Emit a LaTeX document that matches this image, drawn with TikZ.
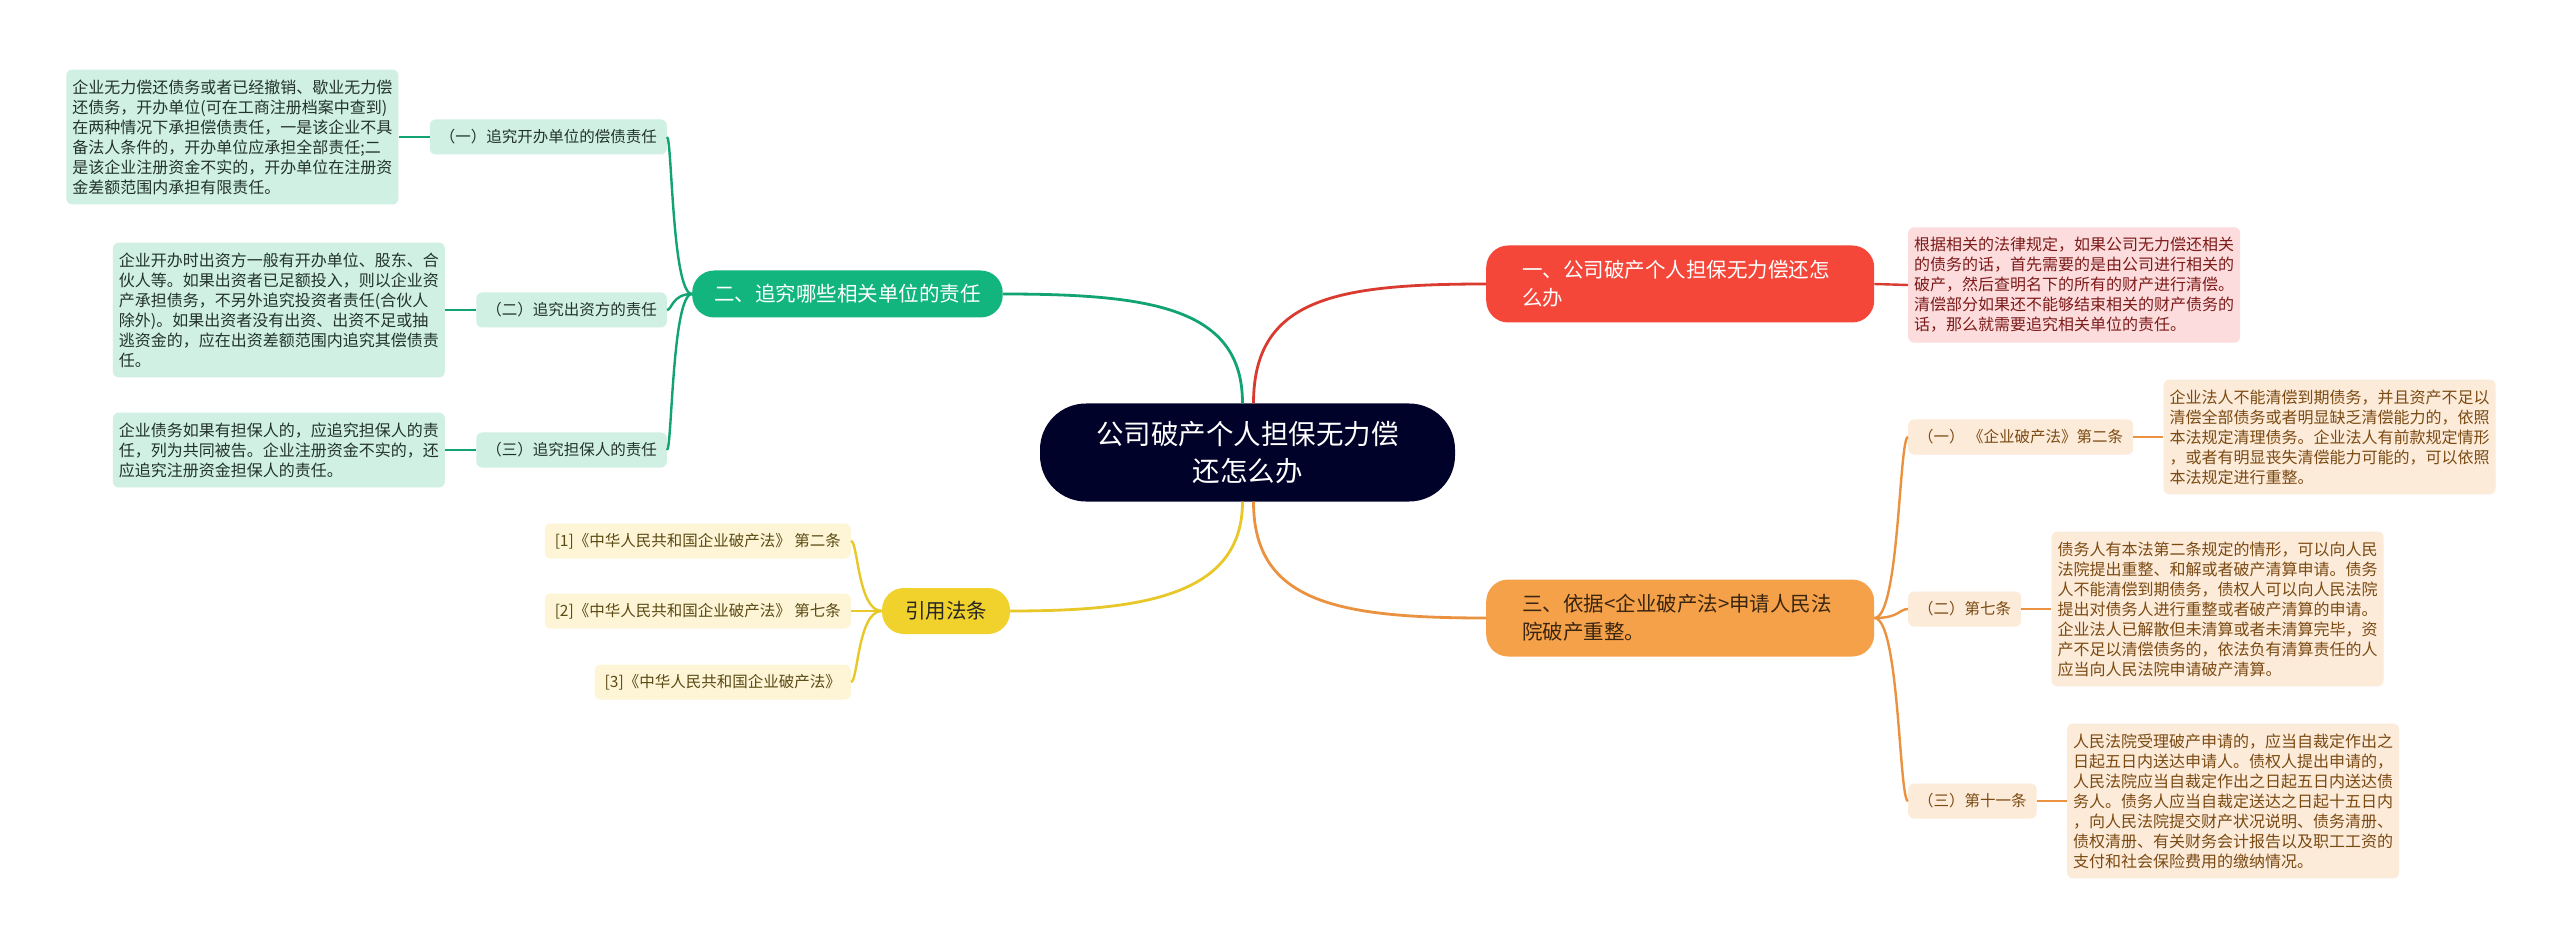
\documentclass[tikz,border=0pt]{standalone}
\usepackage{fontspec}
\setmainfont{Noto Sans CJK SC}
\definecolor{navy}{HTML}{000229}
\definecolor{redmain}{HTML}{F4473A}
\definecolor{redline}{HTML}{D93B30}
\definecolor{redlight}{HTML}{FCDCDC}
\definecolor{redtext}{HTML}{7D1A1A}
\definecolor{greenmain}{HTML}{12B57D}
\definecolor{greenline}{HTML}{12A373}
\definecolor{greenlight}{HTML}{CFF0E3}
\definecolor{greentext}{HTML}{23332C}
\definecolor{orangemain}{HTML}{F5A14A}
\definecolor{orangeline}{HTML}{EA9240}
\definecolor{orangelight}{HTML}{FDEBDA}
\definecolor{orangetext}{HTML}{7A4A12}
\definecolor{orangebrtext}{HTML}{3A2610}
\definecolor{yellowmain}{HTML}{F1D12B}
\definecolor{yellowline}{HTML}{E8C828}
\definecolor{yellowlight}{HTML}{FDF5D6}
\definecolor{yellowtext}{HTML}{5A4A14}
\begin{document}
\begin{tikzpicture}[x=1pt,y=-1pt,
  central/.style={fill=navy,text=white,rounded corners=46pt,minimum width=415pt,minimum height=98pt,align=center,inner sep=0pt,font=\fontsize{27.5}{37}\selectfont},
  branchbox/.style={rounded corners=22pt,inner ysep=0pt,font=\fontsize{20.5}{28}\selectfont},
  wideb/.style={branchbox,text width=316pt,inner xsep=36pt,align=left,minimum height=77pt},
  labelbox/.style={rounded corners=6pt,inner xsep=10pt,inner ysep=0pt,minimum height=35pt,font=\fontsize{15.5}{20}\selectfont},
  detailbox/.style={rounded corners=6pt,inner xsep=6pt,inner ysep=10pt,align=left,font=\fontsize{16}{20}\selectfont},
  mainline/.style={line width=2.8pt},
  subline/.style={line width=2.4pt}]
\fill[white] (0,0) rectangle (2560,949);
\useasboundingbox (0,0) rectangle (2560,949);

% central
\node[central] (c) at (1247.5,452.5) {公司破产个人担保无力偿\\还怎么办};

% branches
\node[wideb,fill=redmain,text=white,anchor=west] (r) at (1486,284) {一、公司破产个人担保无力偿还怎\\么办};
\node[wideb,fill=orangemain,text=orangebrtext,anchor=west] (o) at (1486,618) {三、依据<企业破产法>申请人民法\\院破产重整。};
\node[branchbox,fill=greenmain,text=white,anchor=west,inner xsep=22pt,minimum height=47pt] (g) at (692,294) {二、追究哪些相关单位的责任};
\node[branchbox,fill=yellowmain,text=black!85,minimum width=128pt,minimum height=46pt,inner xsep=10pt] (y) at (946,611) {引用法条};

% red detail
\node[detailbox,fill=redlight,text=redtext,anchor=west] (rd) at (1908,285) {根据相关的法律规定，如果公司无力偿还相关\\的债务的话，首先需要的是由公司进行相关的\\破产，然后查明名下的所有的财产进行清偿。\\清偿部分如果还不能够结束相关的财产债务的\\话，那么就需要追究相关单位的责任。};

% orange labels
\node[labelbox,fill=orangelight,text=orangetext,anchor=west] (o1) at (1908,437) {（一） 《企业破产法》第二条};
\node[labelbox,fill=orangelight,text=orangetext,anchor=west] (o2) at (1908,609) {（二）第七条};
\node[labelbox,fill=orangelight,text=orangetext,anchor=west] (o3) at (1908,801) {（三）第十一条};

\node[detailbox,fill=orangelight,text=orangetext,anchor=west] (o1d) at ([xshift=30pt]o1.east) {企业法人不能清偿到期债务，并且资产不足以\\清偿全部债务或者明显缺乏清偿能力的，依照\\本法规定清理债务。企业法人有前款规定情形\\，或者有明显丧失清偿能力可能的，可以依照\\本法规定进行重整。};
\node[detailbox,fill=orangelight,text=orangetext,anchor=west] (o2d) at ([xshift=30pt]o2.east) {债务人有本法第二条规定的情形，可以向人民\\法院提出重整、和解或者破产清算申请。债务\\人不能清偿到期债务，债权人可以向人民法院\\提出对债务人进行重整或者破产清算的申请。\\企业法人已解散但未清算或者未清算完毕，资\\产不足以清偿债务的，依法负有清算责任的人\\应当向人民法院申请破产清算。};
\node[detailbox,fill=orangelight,text=orangetext,anchor=west] (o3d) at ([xshift=30pt]o3.east) {人民法院受理破产申请的，应当自裁定作出之\\日起五日内送达申请人。债权人提出申请的，\\人民法院应当自裁定作出之日起五日内送达债\\务人。债务人应当自裁定送达之日起十五日内\\，向人民法院提交财产状况说明、债务清册、\\债权清册、有关财务会计报告以及职工工资的\\支付和社会保险费用的缴纳情况。};

% green labels
\node[labelbox,fill=greenlight,text=greentext,anchor=east] (g1) at (667,137) {（一）追究开办单位的偿债责任};
\node[labelbox,fill=greenlight,text=greentext,anchor=east] (g2) at (667,310) {（二）追究出资方的责任};
\node[labelbox,fill=greenlight,text=greentext,anchor=east] (g3) at (667,450) {（三）追究担保人的责任};

\node[detailbox,fill=greenlight,text=greentext,anchor=east] (g1d) at ([xshift=-31pt]g1.west) {企业无力偿还债务或者已经撤销、歇业无力偿\\还债务，开办单位(可在工商注册档案中查到)\\在两种情况下承担偿债责任，一是该企业不具\\备法人条件的，开办单位应承担全部责任;二\\是该企业注册资金不实的，开办单位在注册资\\金差额范围内承担有限责任。};
\node[detailbox,fill=greenlight,text=greentext,anchor=east] (g2d) at ([xshift=-31pt]g2.west) {企业开办时出资方一般有开办单位、股东、合\\伙人等。如果出资者已足额投入，则以企业资\\产承担债务，不另外追究投资者责任(合伙人\\除外)。如果出资者没有出资、出资不足或抽\\逃资金的，应在出资差额范围内追究其偿债责\\任。};
\node[detailbox,fill=greenlight,text=greentext,anchor=east] (g3d) at ([xshift=-31pt]g3.west) {企业债务如果有担保人的，应追究担保人的责\\任，列为共同被告。企业注册资金不实的，还\\应追究注册资金担保人的责任。};

% yellow children
\node[labelbox,fill=yellowlight,text=yellowtext,anchor=east] (y1) at (851,541) {[1]《中华人民共和国企业破产法》 第二条};
\node[labelbox,fill=yellowlight,text=yellowtext,anchor=east] (y2) at (851,611) {[2]《中华人民共和国企业破产法》 第七条};
\node[labelbox,fill=yellowlight,text=yellowtext,anchor=east] (y3) at (851,682) {[3]《中华人民共和国企业破产法》};

% main connectors
\draw[mainline,redline] ([xshift=6pt]c.north) .. controls +(0,-105) and +(-150,0) .. (r.west);
\draw[mainline,greenline] ([xshift=-5pt]c.north) .. controls +(0,-95) and +(150,0) .. (g.east);
\draw[mainline,orangeline] ([xshift=6pt]c.south) .. controls +(0,100) and +(-150,0) .. (o.west);
\draw[mainline,yellowline] ([xshift=-5pt]c.south) .. controls +(0,95) and +(130,0) .. (y.east);

% branch to children
\draw[subline,redline] (r.east) -- (rd.west);
\foreach \k in {g1,g2,g3}{
  \draw[subline,greenline] (g.west) .. controls +(-20,0) and +(5,0) .. (\k.east);
}
\draw[subline,greenline] (g1.west) -- (g1d.east);
\draw[subline,greenline] (g2.west) -- (g2d.east);
\draw[subline,greenline] (g3.west) -- (g3d.east);
\foreach \k in {o1,o2,o3}{
  \draw[subline,orangeline] (o.east) .. controls +(25,0) and +(-9,0) .. (\k.west);
}
\draw[subline,orangeline] (o1.east) -- (o1d.west);
\draw[subline,orangeline] (o2.east) -- (o2d.west);
\draw[subline,orangeline] (o3.east) -- (o3d.west);
\foreach \k in {y1,y2,y3}{
  \draw[subline,yellowline] (y.west) .. controls +(-24,0) and +(7,0) .. (\k.east);
}
\end{tikzpicture}
\end{document}
